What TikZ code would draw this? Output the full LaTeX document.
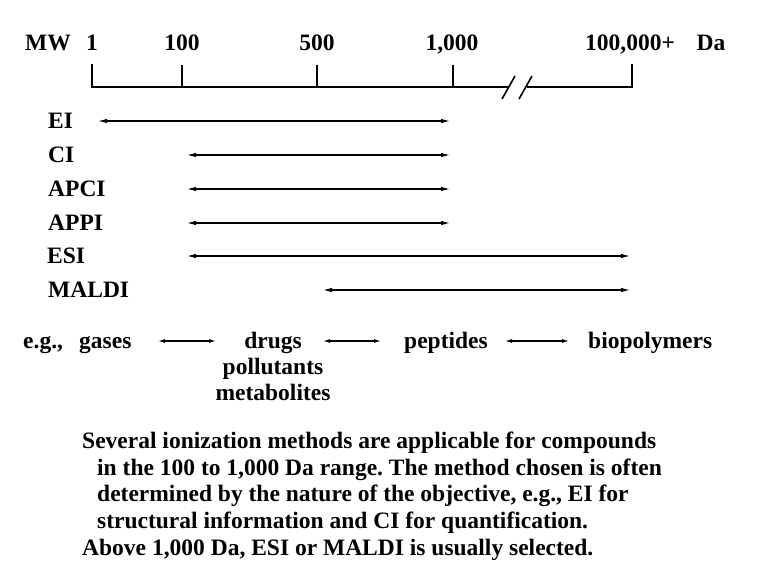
\documentclass[tikz,border=0pt]{standalone}
\usepackage{fontspec}
\setmainfont{Liberation Serif}
\usetikzlibrary{arrows.meta}
\frenchspacing
\begin{document}
\begin{tikzpicture}[x=1pt,y=-1pt,
  lbl/.style={font=\fontsize{23.5}{28}\selectfont\bfseries\frenchspacing, inner sep=0pt, anchor=base},
  lbll/.style={lbl, anchor=base west},
  axisline/.style={line width=2pt},
  spanarrow/.style={line width=1.1pt, {Latex[length=9pt,width=4.5pt]}-{Latex[length=9pt,width=4.5pt]}},
  egarrow/.style={line width=1.1pt, {Latex[length=7pt,width=4pt]}-{Latex[length=7pt,width=4pt]}}]
\useasboundingbox (0,0) rectangle (770,573);
% header labels
\node[lbl] (mw) at (48,50) {MW};
\node[lbl] (l1) at (92,50) {1};
\node[lbl] (l100) at (182,50) {100};
\node[lbl] (l500) at (317,50) {500};
\node[lbl] (l1000) at (452,50) {1,000};
\node[lbl] (l1e5) at (630,50) {100,000+};
\node[lbl] (da) at (711,50) {Da};
% axis
\coordinate (t1) at (92,64);
\coordinate (a1) at (92,87);
\coordinate (t2) at (182,65);
\coordinate (a2) at (182,87);
\coordinate (t3) at (317,65);
\coordinate (a3) at (317,87);
\coordinate (t4) at (453,65);
\coordinate (a4) at (453,87);
\coordinate (b1) at (508,87);
\coordinate (b2) at (527,87);
\coordinate (a5) at (632,87);
\coordinate (t5) at (632,64);
\draw[axisline] (t1) -- (a1) -- (b1);
\draw[axisline] (b2) -- (a5) -- (t5);
\draw[axisline] (t2) -- (a2);
\draw[axisline] (t3) -- (a3);
\draw[axisline] (t4) -- (a4);
\coordinate (s1a) at (502,99); \coordinate (s1b) at (515,76);
\coordinate (s2a) at (519,99); \coordinate (s2b) at (532,76);
\draw[line width=1.6pt] (s1a) -- (s1b);
\draw[line width=1.6pt] (s2a) -- (s2b);
% methods
\node[lbll] (ei) at (48,128) {EI};
\node[lbll] (ci) at (48,162) {CI};
\node[lbll] (apci) at (48,196) {APCI};
\node[lbll] (appi) at (48,230) {APPI};
\node[lbll] (esi) at (47,263) {ESI};
\node[lbll] (maldi) at (48,297) {MALDI};
\coordinate (eiL) at (98,121); \coordinate (eiR) at (450,121);
\coordinate (ciL) at (187,155); \coordinate (ciR) at (450,155);
\coordinate (apciL) at (187,189); \coordinate (apciR) at (450,189);
\coordinate (appiL) at (187,223); \coordinate (appiR) at (450,223);
\coordinate (esiL) at (187,256); \coordinate (esiR) at (630,256);
\coordinate (maldiL) at (323,290); \coordinate (maldiR) at (630,290);
\draw[spanarrow] (eiL) -- (eiR);
\draw[spanarrow] (ciL) -- (ciR);
\draw[spanarrow] (apciL) -- (apciR);
\draw[spanarrow] (appiL) -- (appiR);
\draw[spanarrow] (esiL) -- (esiR);
\draw[spanarrow] (maldiL) -- (maldiR);
% examples
\node[lbll] (eg) at (23,348) {e.g.,};
\node[lbll] (gases) at (79,348) {gases};
\node[lbl] (drugs) at (273,348) {drugs};
\node[lbl] (poll) at (273,374) {pollutants};
\node[lbl] (meta) at (273,400) {metabolites};
\node[lbll] (pept) at (404,348) {peptides};
\node[lbll] (bio) at (588,348) {biopolymers};
\coordinate (e1L) at (158,341); \coordinate (e1R) at (216,341);
\coordinate (e2L) at (323,341); \coordinate (e2R) at (381,341);
\coordinate (e3L) at (505,341); \coordinate (e3R) at (569,341);
\draw[egarrow] (e1L) -- (e1R);
\draw[egarrow] (e2L) -- (e2R);
\draw[egarrow] (e3L) -- (e3R);
% caption
\node[lbll] (c1) at (82,448) {Several ionization methods are applicable for compounds};
\node[lbll] (c2) at (97,475) {in the 100 to 1,000 Da range. The method chosen is often};
\node[lbll] (c3) at (97,501) {determined by the nature of the objective, e.g., EI for};
\node[lbll] (c4) at (97,528) {structural information and CI for quantification.};
\node[lbll] (c5) at (82,555) {Above 1,000 Da, ESI or MALDI is usually selected.};
\end{tikzpicture}
\end{document}
